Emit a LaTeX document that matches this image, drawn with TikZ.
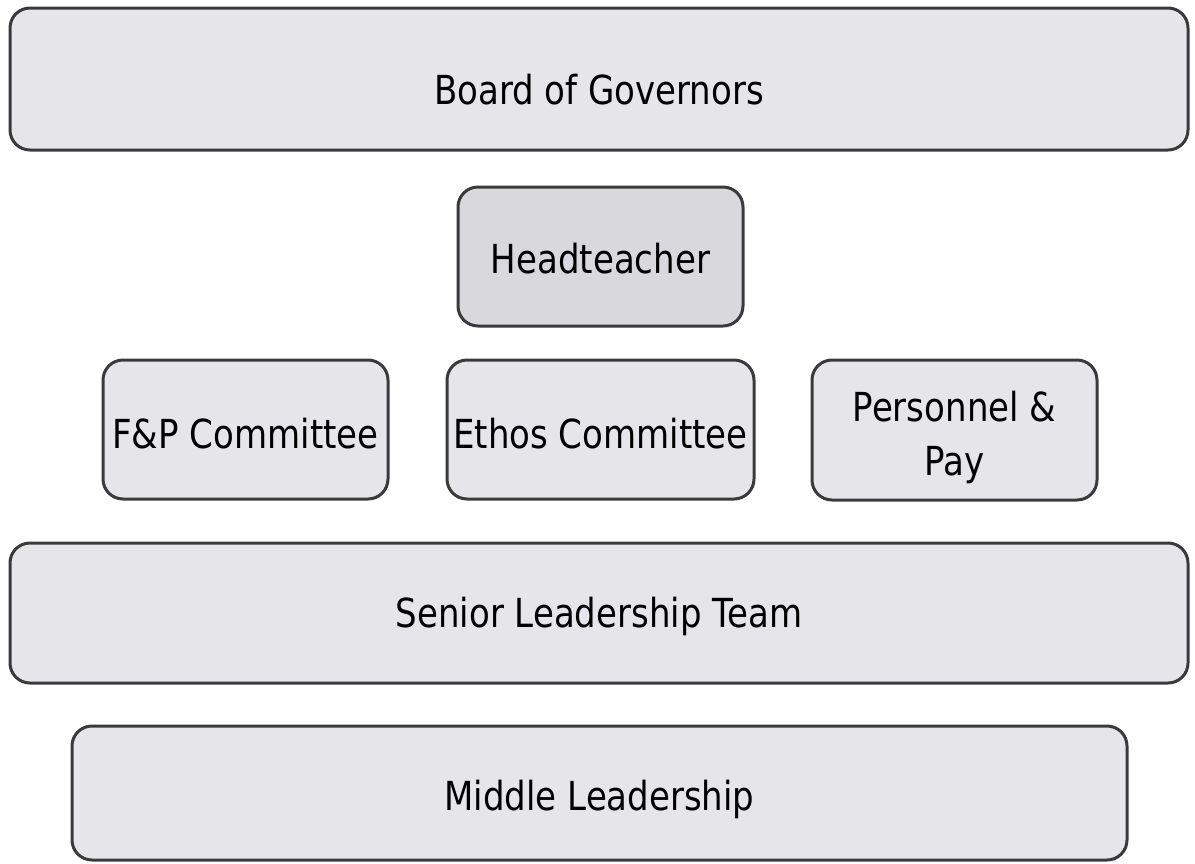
\documentclass[tikz,border=0pt]{standalone}
\usepackage{fontspec}
\setmainfont[FakeStretch=0.85]{DejaVu Sans}
\definecolor{panelfill}{HTML}{E6E5EA}
\definecolor{headfill}{HTML}{D9D8DC}
\definecolor{panelline}{HTML}{3A3A3A}
\begin{document}
\begin{tikzpicture}[x=0.5pt,y=-0.5pt,
    panel/.style={draw=panelline,line width=1.5pt,fill=panelfill,rounded corners=10pt,
      inner sep=0pt,text height=17pt,text depth=0pt,align=center,font=\fontsize{20}{27}\selectfont}]
      \useasboundingbox (0,0) rectangle (1195,863);
      \node[panel,text height=25pt,minimum width=589pt,minimum height=71pt] (board) at (599,79) {Board of Governors};
      \node[panel,fill=headfill,minimum width=142.5pt,minimum height=69.5pt] (head) at (600.5,256.5) {Headteacher};
      \node[panel,text height=19pt,minimum width=142.5pt,minimum height=69.5pt] (fp) at (245.5,429.5) {F\&P Committee};
      \node[panel,text height=19pt,minimum width=153.5pt,minimum height=69.5pt] (ethos) at (600.5,429.5) {Ethos Committee};
      \node[panel,text height=45pt,minimum width=142.5pt,minimum height=70pt] (pay) at (954.5,430) {Personnel \&\\Pay};
      \node[panel,text height=14pt,minimum width=589pt,minimum height=70pt] (slt) at (599,613) {Senior Leadership Team};
      \node[panel,minimum width=527.5pt,minimum height=67pt] (mid) at (599.5,793) {Middle Leadership};
     \end{tikzpicture}
\end{document}
